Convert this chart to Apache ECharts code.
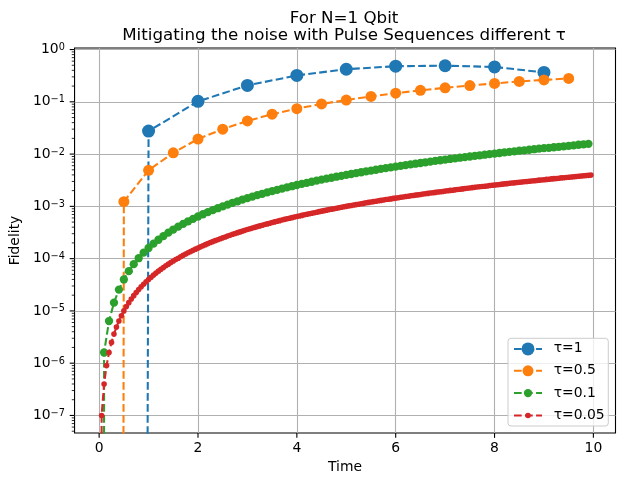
<!DOCTYPE html>
<html><head><meta charset="utf-8">
<script src="https://cdn.jsdelivr.net/npm/echarts@6/dist/echarts.min.js"></script>
<style>html,body{margin:0;padding:0;background:#fff}#c{width:625px;height:486px}</style>
</head><body><div id="c"></div>
<script>
// ---------------- data ----------------
const seriesNames = ['τ=1', 'τ=0.5', 'τ=0.1', 'τ=0.05'];

const timeTau1 = [0,1,2,3,4,5,6,7,8,9];
const fidTau1  = [0,0.0275,0.102,0.206,0.32,0.42,0.48,0.49,0.465,0.365];

const timeTau05 = [0,0.5,1,1.5,2,2.5,3,3.5,4,4.5,5,5.5,6,6.5,7,7.5,8,8.5,9,9.5];
const fidTau05  = [0,0.00123,0.0049,0.0106,0.0194,0.030,0.043,0.058,0.074,0.091,
                   0.108,0.127,0.146,0.166,0.185,0.205,0.225,0.245,0.262,0.28];

const timeTau01 = [
0,0.1,0.2,0.3,0.4,0.5,0.6,0.7,0.8,0.9,
1,1.1,1.2,1.3,1.4,1.5,1.6,1.7,1.8,1.9,
2,2.1,2.2,2.3,2.4,2.5,2.6,2.7,2.8,2.9,
3,3.1,3.2,3.3,3.4,3.5,3.6,3.7,3.8,3.9,
4,4.1,4.2,4.3,4.4,4.5,4.6,4.7,4.8,4.9,
5,5.1,5.2,5.3,5.4,5.5,5.6,5.7,5.8,5.9,
6,6.1,6.2,6.3,6.4,6.5,6.6,6.7,6.8,6.9,
7,7.1,7.2,7.3,7.4,7.5,7.6,7.7,7.8,7.9,
8,8.1,8.2,8.3,8.4,8.5,8.6,8.7,8.8,8.9,
9,9.1,9.2,9.3,9.4,9.5,9.6,9.7,9.8,9.9];
const fidTau01 = [
0,1.6e-6,6.4e-6,1.44e-5,2.56e-5,4.0e-5,5.76e-5,7.84e-5,1.02e-4,1.30e-4,
1.60e-4,1.94e-4,2.30e-4,2.70e-4,3.14e-4,3.60e-4,4.10e-4,4.62e-4,5.18e-4,5.78e-4,
6.40e-4,7.06e-4,7.74e-4,8.46e-4,9.22e-4,1.00e-3,1.08e-3,1.17e-3,1.25e-3,1.35e-3,
1.44e-3,1.54e-3,1.64e-3,1.74e-3,1.85e-3,1.96e-3,2.07e-3,2.19e-3,2.31e-3,2.43e-3,
2.56e-3,2.69e-3,2.82e-3,2.96e-3,3.10e-3,3.24e-3,3.39e-3,3.53e-3,3.69e-3,3.84e-3,
4.00e-3,4.16e-3,4.33e-3,4.49e-3,4.67e-3,4.84e-3,5.02e-3,5.20e-3,5.38e-3,5.57e-3,
5.76e-3,5.95e-3,6.15e-3,6.35e-3,6.55e-3,6.76e-3,6.97e-3,7.18e-3,7.40e-3,7.62e-3,
7.84e-3,8.07e-3,8.29e-3,8.53e-3,8.76e-3,9.00e-3,9.24e-3,9.49e-3,9.73e-3,9.99e-3,
1.02e-2,1.05e-2,1.08e-2,1.10e-2,1.13e-2,1.16e-2,1.18e-2,1.21e-2,1.24e-2,1.27e-2,
1.30e-2,1.32e-2,1.35e-2,1.38e-2,1.41e-2,1.44e-2,1.47e-2,1.51e-2,1.54e-2,1.57e-2];

const timeTau005 = [
0,0.05,0.1,0.15,0.2,0.25,0.3,0.35,0.4,0.45,0.5,0.55,0.6,0.65,0.7,0.75,0.8,0.85,0.9,0.95,
1,1.05,1.1,1.15,1.2,1.25,1.3,1.35,1.4,1.45,1.5,1.55,1.6,1.65,1.7,1.75,1.8,1.85,1.9,1.95,
2,2.05,2.1,2.15,2.2,2.25,2.3,2.35,2.4,2.45,2.5,2.55,2.6,2.65,2.7,2.75,2.8,2.85,2.9,2.95,
3,3.05,3.1,3.15,3.2,3.25,3.3,3.35,3.4,3.45,3.5,3.55,3.6,3.65,3.7,3.75,3.8,3.85,3.9,3.95,
4,4.05,4.1,4.15,4.2,4.25,4.3,4.35,4.4,4.45,4.5,4.55,4.6,4.65,4.7,4.75,4.8,4.85,4.9,4.95,
5,5.05,5.1,5.15,5.2,5.25,5.3,5.35,5.4,5.45,5.5,5.55,5.6,5.65,5.7,5.75,5.8,5.85,5.9,5.95,
6,6.05,6.1,6.15,6.2,6.25,6.3,6.35,6.4,6.45,6.5,6.55,6.6,6.65,6.7,6.75,6.8,6.85,6.9,6.95,
7,7.05,7.1,7.15,7.2,7.25,7.3,7.35,7.4,7.45,7.5,7.55,7.6,7.65,7.7,7.75,7.8,7.85,7.9,7.95,
8,8.05,8.1,8.15,8.2,8.25,8.3,8.35,8.4,8.45,8.5,8.55,8.6,8.65,8.7,8.75,8.8,8.85,8.9,8.95,
9,9.05,9.1,9.15,9.2,9.25,9.3,9.35,9.4,9.45,9.5,9.55,9.6,9.65,9.7,9.75,9.8,9.85,9.9,9.95];
const fidTau005 = [
0,1e-7,4e-7,9e-7,1.6e-6,2.5e-6,3.6e-6,4.9e-6,6.4e-6,8.1e-6,
1.00e-5,1.21e-5,1.44e-5,1.69e-5,1.96e-5,2.25e-5,2.56e-5,2.89e-5,3.24e-5,3.61e-5,
4.00e-5,4.41e-5,4.84e-5,5.29e-5,5.76e-5,6.25e-5,6.76e-5,7.29e-5,7.84e-5,8.41e-5,
9.00e-5,9.61e-5,1.02e-4,1.09e-4,1.16e-4,1.23e-4,1.30e-4,1.37e-4,1.44e-4,1.52e-4,
1.60e-4,1.68e-4,1.76e-4,1.85e-4,1.94e-4,2.03e-4,2.12e-4,2.21e-4,2.30e-4,2.40e-4,
2.50e-4,2.60e-4,2.70e-4,2.81e-4,2.92e-4,3.03e-4,3.14e-4,3.25e-4,3.36e-4,3.48e-4,
3.60e-4,3.72e-4,3.84e-4,3.97e-4,4.10e-4,4.23e-4,4.36e-4,4.49e-4,4.62e-4,4.76e-4,
4.90e-4,5.04e-4,5.18e-4,5.33e-4,5.48e-4,5.63e-4,5.78e-4,5.93e-4,6.08e-4,6.24e-4,
6.40e-4,6.56e-4,6.72e-4,6.89e-4,7.06e-4,7.23e-4,7.40e-4,7.57e-4,7.74e-4,7.92e-4,
8.10e-4,8.28e-4,8.46e-4,8.65e-4,8.84e-4,9.03e-4,9.22e-4,9.41e-4,9.60e-4,9.80e-4,
1.00e-3,1.02e-3,1.04e-3,1.06e-3,1.08e-3,1.10e-3,1.12e-3,1.14e-3,1.17e-3,1.19e-3,
1.21e-3,1.23e-3,1.25e-3,1.28e-3,1.30e-3,1.32e-3,1.35e-3,1.37e-3,1.39e-3,1.42e-3,
1.44e-3,1.46e-3,1.49e-3,1.51e-3,1.54e-3,1.56e-3,1.59e-3,1.61e-3,1.64e-3,1.66e-3,
1.69e-3,1.72e-3,1.74e-3,1.77e-3,1.80e-3,1.82e-3,1.85e-3,1.88e-3,1.90e-3,1.93e-3,
1.96e-3,1.99e-3,2.02e-3,2.04e-3,2.07e-3,2.10e-3,2.13e-3,2.16e-3,2.19e-3,2.22e-3,
2.25e-3,2.28e-3,2.31e-3,2.34e-3,2.37e-3,2.40e-3,2.43e-3,2.46e-3,2.50e-3,2.53e-3,
2.56e-3,2.59e-3,2.62e-3,2.66e-3,2.69e-3,2.72e-3,2.76e-3,2.79e-3,2.82e-3,2.86e-3,
2.89e-3,2.92e-3,2.96e-3,2.99e-3,3.03e-3,3.06e-3,3.10e-3,3.13e-3,3.17e-3,3.20e-3,
3.24e-3,3.28e-3,3.31e-3,3.35e-3,3.39e-3,3.42e-3,3.46e-3,3.50e-3,3.53e-3,3.57e-3,
3.61e-3,3.65e-3,3.69e-3,3.72e-3,3.76e-3,3.80e-3,3.84e-3,3.88e-3,3.92e-3,3.96e-3];

const xTickLabels = [0, 2, 4, 6, 8, 10];
const yTickExponents = [-7, -6, -5, -4, -3, -2, -1, 0];

// ---------------- layout / style ----------------
const FONT = 'DejaVu Sans';
const X_MIN = -0.4975, X_MAX = 10.4475;
const Y_MIN = 4.62e-8, Y_MAX = 1.07;
const ZERO_ON_LOG = 1e-300;   // a zero fidelity, clipped like matplotlib does on a log axis
const colors = ['#1f77b4', '#ff7f0e', '#2ca02c', '#d62728'];
const markerSizes = [13, 11, 8.3, 5.6];
const times = [timeTau1, timeTau05, timeTau01, timeTau005];
const fids = [fidTau1, fidTau05, fidTau01, fidTau005];

const yMajor = yTickExponents.map(e => Math.pow(10, e));
const yMinor = [];
for (let e = -8; e <= 0; e++) for (let m = 2; m <= 9; m++) {
  const v = m * Math.pow(10, e);
  if (v > Y_MIN && v < Y_MAX) yMinor.push(v);
}

function tickSeries(values, isX, len, width) {
  return {
    type: 'custom', silent: true, clip: false, z: 5,
    data: values.map(v => isX ? [v, Y_MIN] : [X_MIN, v]),
    renderItem: (params, api) => {
      const p = api.coord([api.value(0), api.value(1)]);
      return {
        type: 'line',
        shape: isX ? {x1: p[0], y1: p[1], x2: p[0], y2: p[1] + len}
                   : {x1: p[0], y1: p[1], x2: p[0] - len, y2: p[1]},
        style: {stroke: '#000', lineWidth: width}
      };
    }
  };
}

const lineSeries = seriesNames.map((name, i) => ({
  name, type: 'line',
  data: times[i].map((t, k) => [t, fids[i][k] > 0 ? fids[i][k] : ZERO_ON_LOG]),
  symbol: 'circle', symbolSize: markerSizes[i], showAllSymbol: true, clip: true,
  lineStyle: {color: colors[i], width: 2.08, type: [7.7, 3.33]},
  itemStyle: {color: colors[i], borderWidth: 0},
  emphasis: {disabled: true}, z: 2
}));

const legendRowsY = [350, 370.7, 391.3, 412];
const legends = seriesNames.map((name, i) => {
  const h = markerSizes[i] / 0.8;
  return {
    data: [name], orient: 'vertical', left: 513, top: legendRowsY[i] - h / 2,
    itemWidth: 28, itemHeight: h, padding: 0, z: 20,
    textStyle: {fontFamily: FONT, fontSize: 13.9, color: '#000', padding: [0, 0, 0, 6.7]}
  };
});

const chart = echarts.init(document.getElementById('c'), null, {renderer: 'canvas'});
chart.setOption({
  animation: false,
  backgroundColor: '#fff',
  title: {
    text: 'For N=1 Qbit\nMitigating the noise with Pulse Sequences different τ',
    left: 344, top: 10, textAlign: 'center', padding: 0,
    textStyle: {fontFamily: FONT, fontSize: 16.7, lineHeight: 17.4, fontWeight: 'normal', color: '#000'}
  },
  grid: {left: 73, right: 9.5, top: 48, bottom: 53, show: true, borderColor: '#000', borderWidth: 1.1, backgroundColor: 'transparent'},
  legend: legends,
  graphic: [{
    type: 'rect', z: 15, silent: true,
    shape: {x: 508, y: 338.3, width: 100.3, height: 87.7, r: 3},
    style: {fill: 'rgba(255,255,255,0.8)', stroke: '#cccccc', lineWidth: 1}
  }],
  xAxis: {
    type: 'value', min: X_MIN, max: X_MAX, splitNumber: 5,
    name: 'Time', nameLocation: 'middle', nameGap: 26,
    nameTextStyle: {fontFamily: FONT, fontSize: 13.9, color: '#000'},
    axisLine: {show: false}, axisTick: {show: false},
    axisLabel: {
      margin: 8, fontFamily: FONT, fontSize: 13.9, color: '#000',
      formatter: v => xTickLabels.indexOf(Math.round(v * 1e6) / 1e6) >= 0 ? String(Math.round(v)) : ''
    },
    splitLine: {show: true, showMinLine: false, showMaxLine: false, lineStyle: {color: '#b0b0b0', width: 1.1}}
  },
  yAxis: {
    type: 'log', logBase: 10, min: Y_MIN, max: Y_MAX, splitNumber: 8,
    name: 'Fidelity', nameLocation: 'middle', nameGap: 46,
    nameTextStyle: {fontFamily: FONT, fontSize: 13.9, color: '#000'},
    axisLine: {show: false}, axisTick: {show: false}, minorTick: {show: false},
    axisLabel: {
      margin: 9.7, color: '#000',
      formatter: v => {
        const e = Math.log10(v), r = Math.round(e);
        if (Math.abs(e - r) > 1e-6 || yTickExponents.indexOf(r) < 0) return '';
        return '{b|10}{s|' + (r < 0 ? '\u2212' + (-r) : String(r)) + '}';
      },
      rich: {
        b: {fontFamily: FONT, fontSize: 13.9, color: '#000', lineHeight: 14, padding: [4, 0, 0, 0], verticalAlign: 'bottom'},
        s: {fontFamily: FONT, fontSize: 9.7, color: '#000', lineHeight: 10, verticalAlign: 'top'}
      }
    },
    splitLine: {show: true, showMinLine: false, showMaxLine: false, lineStyle: {color: '#b0b0b0', width: 1.1}}
  },
  series: lineSeries.concat([
    tickSeries(xTickLabels, true, 4.86, 1.1),
    tickSeries(yMajor, false, 4.86, 1.1),
    tickSeries(yMinor, false, 2.78, 0.83)
  ])
});
</script>
</body></html>
